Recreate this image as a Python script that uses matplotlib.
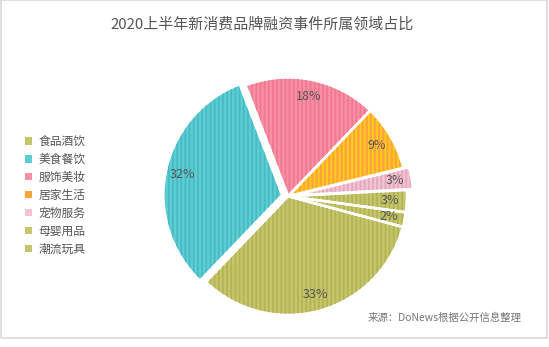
import matplotlib.pyplot as plt
from matplotlib.patches import Rectangle

plt.rcParams['font.family'] = ['Noto Sans CJK SC', 'DejaVu Sans']
plt.rcParams['hatch.linewidth'] = 1.2

categories = ['食品酒饮', '美食餐饮', '服饰美妆', '居家生活', '宠物服务', '母婴用品', '潮流玩具']
shares = [33, 32, 18, 9, 3, 3, 2]
explode = [0, 0.05, 0, 0, 0.05, 0, 0]

fill_colors = ['#c5c56c', '#5ccdd5', '#f98fa3', '#ffa43c', '#f2c3d3', '#c5c56c', '#c5c56c']
stripe_colors = ['#b3b352', '#46b9c1', '#ef7890', '#ffd11a', '#e3a6bd', '#b3b352', '#b3b352']

text_gray = '#555555'

fig = plt.figure(figsize=(5.49, 3.47), dpi=100)
ax = fig.add_axes([0.2429, -0.0107, 0.5636, 0.8905])

pie_kw = dict(explode=explode, startangle=-15, counterclock=False)

# base fill with white separators
wedges, _, autotexts = ax.pie(
    shares, colors=fill_colors, autopct='%d%%', pctdistance=0.86,
    wedgeprops=dict(edgecolor='white', linewidth=1.8),
    textprops=dict(color=text_gray, fontsize=9), **pie_kw,
)

# vertical stripe overlay on top of each slice
stripes, _ = ax.pie(shares, colors=stripe_colors, wedgeprops=dict(linewidth=0), **pie_kw)
for w, c in zip(stripes, stripe_colors):
    w.set_facecolor('none')
    w.set_edgecolor(c)
    w.set_hatch('||||')
    w.set_linewidth(0)
    w.set_zorder(1.5)

# redraw white outlines above the stripes
outlines, _ = ax.pie(shares, colors=fill_colors,
                     wedgeprops=dict(edgecolor='white', linewidth=1.8), **pie_kw)
for w in outlines:
    w.set_facecolor('none')
    w.set_zorder(1.8)
for t in autotexts:
    t.set_zorder(3)

ax.set_aspect('equal')
ax.set_xlim(-1.3, 1.3)
ax.set_ylim(-1.3, 1.3)

leg = fig.legend(
    wedges, categories, loc='center left', bbox_to_anchor=(0.045, 0.437),
    frameon=False, fontsize=8.5, borderaxespad=0, borderpad=0,
    handlelength=0.6, handleheight=0.6, handletextpad=0.55, labelspacing=0.42,
)
for t in leg.get_texts():
    t.set_color(text_gray)
for h in leg.legend_handles:
    h.set_edgecolor('none')

fig.text(0.478, 0.931, '2020上半年新消费品牌融资事件所属领域占比',
         ha='center', va='center', fontsize=10.8, color=text_gray)
fig.text(0.809, 0.084, '来源：DoNews根据公开信息整理',
         ha='center', va='center', fontsize=7.5, color='#777777')

# thin frame around the chart area
fig.patches.append(Rectangle((0.001, 0.027), 0.996, 0.972, transform=fig.transFigure,
                             fill=False, edgecolor='#d9d9d9', linewidth=1.2))

fig.savefig('out.png', dpi=100)
